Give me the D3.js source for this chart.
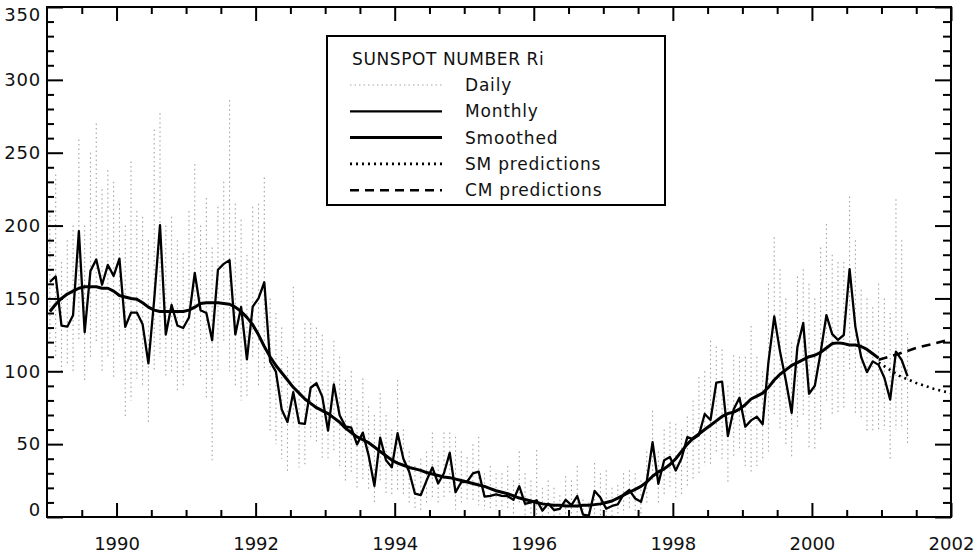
<!DOCTYPE html>
<html><head><meta charset="utf-8">
<script src="https://cdn.jsdelivr.net/npm/d3@7"></script>
<style>
body{margin:0;background:#fff;}
svg{display:block;font-family:"DejaVu Sans",sans-serif;}
</style></head><body>
<svg id="chart" width="978" height="555"></svg>
<script>
// ---- data ----
const startYear = 1989; // monthly series start: Jan 1989
const monthly = [
  161.3,165.1,131.4,130.6,138.5,196.2,126.8,168.9,176.7,159.4,173.0,165.5,
  177.3,130.5,140.3,140.3,132.2,105.4,149.4,200.3,125.2,145.5,131.4,129.7,
  136.9,167.5,141.9,140.0,121.3,169.7,173.7,176.3,125.3,144.1,108.2,144.4,
  150.0,161.1,106.7,99.8,73.8,65.2,85.7,64.5,63.9,88.7,91.8,82.6,
  59.3,91.0,69.8,62.2,61.3,49.8,57.9,42.3,21.4,54.4,39.0,34.1,
  57.5,40.0,31.0,16.0,15.0,25.0,34.0,23.0,30.0,44.0,17.0,24.0,
  24.2,29.9,31.1,14.0,14.5,15.6,14.5,14.3,11.8,21.1,9.0,10.0,
  11.5,4.4,9.2,4.8,5.5,11.8,8.2,14.4,1.6,0.9,17.9,13.3,
  5.7,7.6,8.7,15.5,18.5,12.7,10.4,24.4,51.3,22.8,39.0,41.2,
  31.9,40.3,54.8,53.4,56.3,70.7,66.6,92.2,92.9,55.5,74.0,81.9,
  62.0,66.3,68.8,63.7,106.4,137.7,113.5,93.7,71.5,116.7,133.2,84.6,
  90.1,112.9,138.5,125.5,121.6,124.9,170.1,130.5,109.7,99.4,106.8,104.4,
  95.6,80.6,113.5,107.7,96.6
];
const smoothed = [
  141,146,150,153,155,157,158,158,158,157,157,155,
  152,151,150,149.5,147,144,142,141,141,141,141,141,
  142,144,146.5,147,147,147,146.5,146,144,141,137,132,
  125,117,110,104,99,94,89,85,81,78,75,73,
  71,68,65,61,58,55,53,51,48,45,42,39,
  37,35.5,34,33,32,30.5,29.5,28.5,27.5,27,26,25,
  24,23,22,21,19.5,18,17,16,14.5,13,12,11,
  10,9,8.5,8,8,7.5,7.5,7.5,8,8,8.5,9,
  10,11,13,15,17,19,21,24,28,31,33,36,
  40,45,50,54,57,60,63,66,69,71,72,74,
  77,81,83,85,89,94,98,101,104,106,108,110,
  111,113,116,119,119.5,119,118,118,117,115,112,109
];
const dailyHigh = [
  210,235,175,190,200,259,200,250,270,225,238,230,
  215,200,244,210,206,190,266,277,200,206,190,181,
  210,242,200,219,185,213,230,286,215,204,180,213,
  215,233,150,140,130,110,158,115,133,133,130,125,
  100,121,110,94,100,80,95,76,70,85,70,60,
  94,60,45,35,40,45,58,45,58,58,55,45,
  41,50,55,30,35,30,30,35,25,45,30,25,
  46,20,25,20,15,28,25,35,12,10,37,30,
  32,20,22,30,32,30,25,45,73,45,60,65,
  64,60,69,80,96,100,121,117,115,90,111,110,
  110,131,110,100,160,192,170,150,120,165,170,160,
  150,185,201,180,175,175,220,190,156,150,144,160,
  150,140,218,190,126
];
const dailyLow = [
  120,110,100,105,100,120,94,110,120,100,110,95,
  120,68,80,95,90,65,100,110,95,100,85,89,
  100,110,95,80,39,100,120,100,89,80,82,108,
  90,100,58,50,40,30,62,34,35,53,50,40,
  40,45,35,25,30,20,25,18,10,25,15,15,
  18,15,8,5,5,8,12,10,12,15,5,10,
  10,10,8,5,5,5,5,5,0,8,0,0,
  0,0,0,0,0,0,0,0,0,0,0,0,
  0,0,0,2,5,3,0,8,25,10,15,20,
  12,15,20,25,30,35,35,45,40,23,40,45,
  35,30,35,40,45,70,60,48,40,60,70,46,
  46,60,80,70,70,75,100,70,67,58,58,60,
  60,40,60,60,50
];
const predYears = [2000.96, 2001.25, 2001.5, 2001.75, 2002.0];
const smPredictions = [106, 97, 92, 88, 85];
const cmPredictions = [108, 112, 116, 119, 122];
const xMajorTicks = [1990, 1992, 1994, 1996, 1998, 2000, 2002];
const yMajorTicks = [0, 50, 100, 150, 200, 250, 300, 350];
const legendTitle = "SUNSPOT NUMBER Ri";
const legendLabels = ["Daily", "Monthly", "Smoothed", "SM predictions", "CM predictions"];

// ---- drawing ----
const svg = d3.select("#chart");
const L = 47, R = 951, T = 7, B = 517;
const x = d3.scaleLinear().domain([1989, 2002]).range([L, R]);
const y = d3.scaleLinear().domain([0, 350]).range([B, T]);
const tMonth = i => startYear + (i + 0.5) / 12;

const styles = [
  {stroke:"#a3a3a3", width:1.1, dash:"1.5,3"},
  {stroke:"#000", width:2.3, dash:null},
  {stroke:"#000", width:3, dash:null},
  {stroke:"#000", width:2.6, dash:"2,4"},
  {stroke:"#000", width:2.6, dash:"9,6"}
];

svg.append("defs").append("clipPath").attr("id","plot")
  .append("rect").attr("x",L).attr("y",T).attr("width",R-L).attr("height",B-T);
const plot = svg.append("g").attr("clip-path","url(#plot)");

// daily range streaks
plot.append("g").selectAll("line").data(dailyHigh).join("line")
  .attr("x1",(d,i)=>x(tMonth(i))).attr("x2",(d,i)=>x(tMonth(i)))
  .attr("y1",d=>y(d)).attr("y2",(d,i)=>y(dailyLow[i]))
  .attr("stroke",styles[0].stroke).attr("stroke-width",styles[0].width)
  .attr("stroke-dasharray",styles[0].dash);

const line = d3.line().x(d=>x(d[0])).y(d=>y(d[1]));
const series = [
  {pts: monthly.map((v,i)=>[tMonth(i),v]), s: styles[1]},
  {pts: smoothed.map((v,i)=>[tMonth(i),v]), s: styles[2]},
  {pts: predYears.map((t,i)=>[t,smPredictions[i]]), s: styles[3]},
  {pts: predYears.map((t,i)=>[t,cmPredictions[i]]), s: styles[4]}
];
series.forEach(d=>{
  plot.append("path").datum(d.pts).attr("d",line).attr("fill","none")
    .attr("stroke",d.s.stroke).attr("stroke-width",d.s.width)
    .attr("stroke-dasharray",d.s.dash).attr("stroke-linejoin","round");
});

// axes
function styleAxis(g){
  g.select(".domain").remove();
  g.selectAll(".tick line").attr("stroke","#000").attr("stroke-width",2);
  g.attr("font-family","DejaVu Sans, sans-serif").attr("font-size",18);
  g.selectAll("text").attr("fill","#111");
}
const xMinor = d3.range(1989.5, 2002, 0.5).filter(v=>!xMajorTicks.includes(v));
const yMinor = d3.range(10, 350, 10).filter(v=>v%50!==0);

svg.append("g").attr("transform",`translate(0,${B})`)
  .call(d3.axisBottom(x).tickValues(xMinor).tickSize(-7).tickFormat("")).call(styleAxis);
svg.append("g").attr("transform",`translate(0,${B})`)
  .call(d3.axisBottom(x).tickValues(xMajorTicks).tickSize(-14).tickPadding(20).tickFormat(d3.format("d"))).call(styleAxis);
svg.append("g").attr("transform",`translate(0,${T})`)
  .call(d3.axisTop(x).tickValues(xMinor).tickSize(-7).tickFormat("")).call(styleAxis);
svg.append("g").attr("transform",`translate(0,${T})`)
  .call(d3.axisTop(x).tickValues(xMajorTicks).tickSize(-14).tickFormat("")).call(styleAxis);

svg.append("g").attr("transform",`translate(${L},0)`)
  .call(d3.axisLeft(y).tickValues(yMinor).tickSize(-7).tickFormat("")).call(styleAxis);
const yl = svg.append("g").attr("transform",`translate(${L},0)`)
  .call(d3.axisLeft(y).tickValues(yMajorTicks).tickSize(-16).tickPadding(6).tickFormat(d3.format("d"))).call(styleAxis);
yl.selectAll("text").attr("y", d => Math.min(Math.max(y(d), 15), 510) - y(d)).attr("letter-spacing",0.8);
svg.append("g").attr("transform",`translate(${R},0)`)
  .call(d3.axisRight(y).tickValues(yMinor).tickSize(-8).tickFormat("")).call(styleAxis);
svg.append("g").attr("transform",`translate(${R},0)`)
  .call(d3.axisRight(y).tickValues(yMajorTicks).tickSize(-16).tickFormat("")).call(styleAxis);

// frame
svg.append("rect").attr("x",L).attr("y",T).attr("width",R-L).attr("height",B-T)
  .attr("fill","none").attr("stroke","#000").attr("stroke-width",2);

// legend
const lg = svg.append("g");
lg.append("rect").attr("x",327).attr("y",36).attr("width",338).attr("height",169)
  .attr("fill","#fff").attr("stroke","#000").attr("stroke-width",2);
lg.append("text").attr("x",352).attr("y",65).text(legendTitle)
  .attr("font-size",17).attr("letter-spacing",0.6).attr("fill","#111");
legendLabels.forEach((lab,i)=>{
  const by = 91 + i*26.3;
  lg.append("line").attr("x1",350).attr("x2",442).attr("y1",by-6).attr("y2",by-6)
    .attr("stroke",styles[i].stroke).attr("stroke-width",styles[i].width)
    .attr("stroke-dasharray",styles[i].dash);
  lg.append("text").attr("x",465).attr("y",by).text(lab)
    .attr("font-size",17).attr("letter-spacing",0.8).attr("fill","#111");
});
</script>
</body></html>
